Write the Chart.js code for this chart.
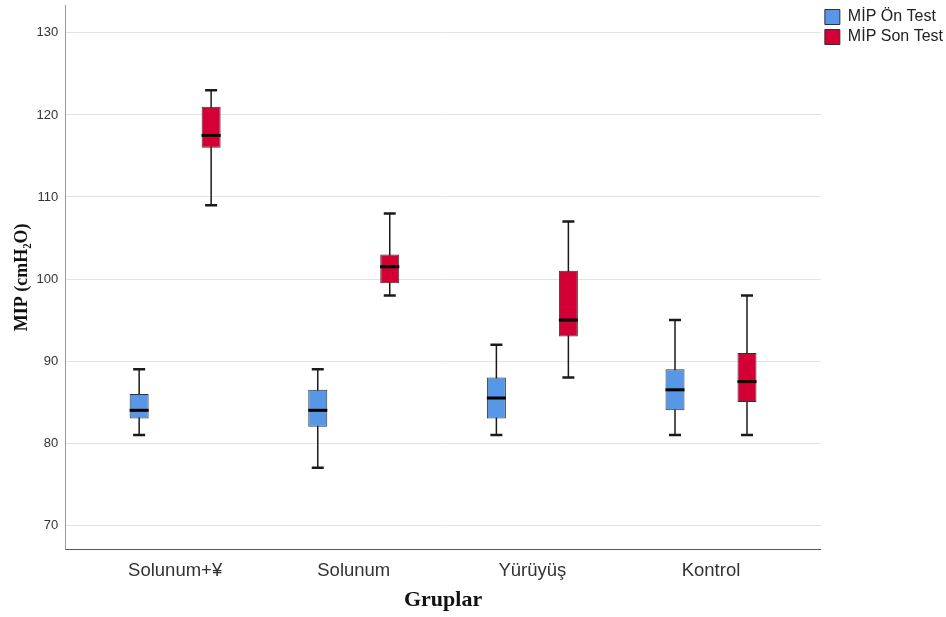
<!DOCTYPE html>
<html>
<head>
<meta charset="utf-8">
<script src="https://cdn.jsdelivr.net/npm/chart.js@4.4.1/dist/chart.umd.min.js"></script>
<style>
  html, body { margin: 0; padding: 0; background: #fff; }
  #wrap { width: 946px; height: 617px; position: relative; }
</style>
</head>
<body>
<div id="wrap"><canvas id="chart" width="946" height="617"></canvas></div>
<script>
const groups = ['Solunum+¥', 'Solunum', 'Yürüyüş', 'Kontrol'];
const yTicks = [70, 80, 90, 100, 110, 120, 130];

// MİP Ön Test
const preMin = [81, 77, 81, 81];
const preQ1  = [83, 82, 83, 84];
const preMed = [84, 84, 85.5, 86.5];
const preQ3  = [86, 86.5, 88, 89];
const preMax = [89, 89, 92, 95];

// MİP Son Test
const postMin = [109, 98, 88, 81];
const postQ1  = [116, 99.5, 93, 85];
const postMed = [117.5, 101.5, 95, 87.5];
const postQ3  = [121, 103, 101, 91];
const postMax = [123, 108, 107, 98];

function boxData(q1, q3) {
  return groups.map((g, i) => ({ x: i, y: [q1[i], q3[i]] }));
}

// whiskers, caps and medians drawn around the floating bars
const boxPlotPlugin = {
  id: 'boxPlot',
  beforeDatasetsDraw(chart) {
    const { ctx, scales: { y } } = chart;
    chart.data.datasets.forEach((ds, d) => {
      const meta = chart.getDatasetMeta(d);
      meta.data.forEach((bar, i) => {
        const yMin = y.getPixelForValue(ds.wMin[i]);
        const yMax = y.getPixelForValue(ds.wMax[i]);
        ctx.save();
        ctx.strokeStyle = '#1a1a1a';
        ctx.lineWidth = 1.5;
        ctx.beginPath();
        ctx.moveTo(bar.x, yMin); ctx.lineTo(bar.x, yMax);
        ctx.stroke();
        ctx.lineWidth = 2.5;
        ctx.beginPath();
        ctx.moveTo(bar.x - 6, yMin); ctx.lineTo(bar.x + 6, yMin);
        ctx.moveTo(bar.x - 6, yMax); ctx.lineTo(bar.x + 6, yMax);
        ctx.stroke();
        ctx.restore();
      });
    });
  },
  afterDatasetsDraw(chart) {
    const { ctx, scales: { y } } = chart;
    chart.data.datasets.forEach((ds, d) => {
      const meta = chart.getDatasetMeta(d);
      meta.data.forEach((bar, i) => {
        const yMed = y.getPixelForValue(ds.med[i]);
        ctx.save();
        ctx.strokeStyle = '#000';
        ctx.lineWidth = 3;
        ctx.beginPath();
        ctx.moveTo(bar.x - bar.width / 2, yMed); ctx.lineTo(bar.x + bar.width / 2, yMed);
        ctx.stroke();
        ctx.restore();
      });
    });
  }
};

new Chart(document.getElementById('chart'), {
  type: 'bar',
  data: {
    datasets: [
      { label: 'MİP Ön Test', data: boxData(preQ1, preQ3), wMin: preMin, wMax: preMax, med: preMed,
        backgroundColor: '#5897e5', borderColor: '#333', borderWidth: 1, borderSkipped: false },
      { label: 'MİP Son Test', data: boxData(postQ1, postQ3), wMin: postMin, wMax: postMax, med: postMed,
        backgroundColor: '#d40035', borderColor: '#333', borderWidth: 1, borderSkipped: false }
    ]
  },
  options: {
    responsive: false, animation: false,
    categoryPercentage: 0.806, barPercentage: 0.264,
    layout: { padding: { top: 5, left: 12, right: -7, bottom: 0 } },
    plugins: {
      legend: {
        position: 'right', align: 'start',
        labels: { boxWidth: 15, boxHeight: 15, padding: 4, color: '#222',
          font: { family: 'Liberation Sans, Arial', size: 16 } }
      },
      tooltip: { enabled: false }
    },
    scales: {
      x: {
        type: 'linear', min: -0.615, max: 3.615, offset: false,
        afterBuildTicks: (s) => { s.ticks = groups.map((g, i) => ({ value: i })); },
        grid: { display: false, drawTicks: false },
        border: { color: '#555', width: 1 },
        ticks: { color: '#333', padding: 10, font: { family: 'Liberation Sans, Arial', size: 18.5 },
          callback: (v) => groups[v] },
        title: { display: true, text: 'Gruplar', color: '#111', padding: { top: -3, bottom: 6 },
          font: { family: 'Liberation Serif, DejaVu Serif', size: 22, weight: 'bold', lineHeight: 1 } }
      },
      y: {
        min: 67, max: 133.4,
        afterBuildTicks: (s) => { s.ticks = yTicks.map(v => ({ value: v })); },
        afterFit: (s) => { s.paddingTop = 0; s.paddingBottom = 0; },
        grid: { color: '#e3e3e3', drawTicks: false },
        border: { color: '#999', width: 1 },
        ticks: { color: '#333', padding: 7, font: { family: 'Liberation Sans, Arial', size: 13 } },
        title: { display: true, text: 'MIP (cmH₂O)', color: '#111', padding: { top: 0, bottom: -4 },
          font: { family: 'Liberation Serif, DejaVu Serif', size: 18, weight: 'bold' } }
      }
    }
  },
  plugins: [boxPlotPlugin]
});
</script>
</body>
</html>
